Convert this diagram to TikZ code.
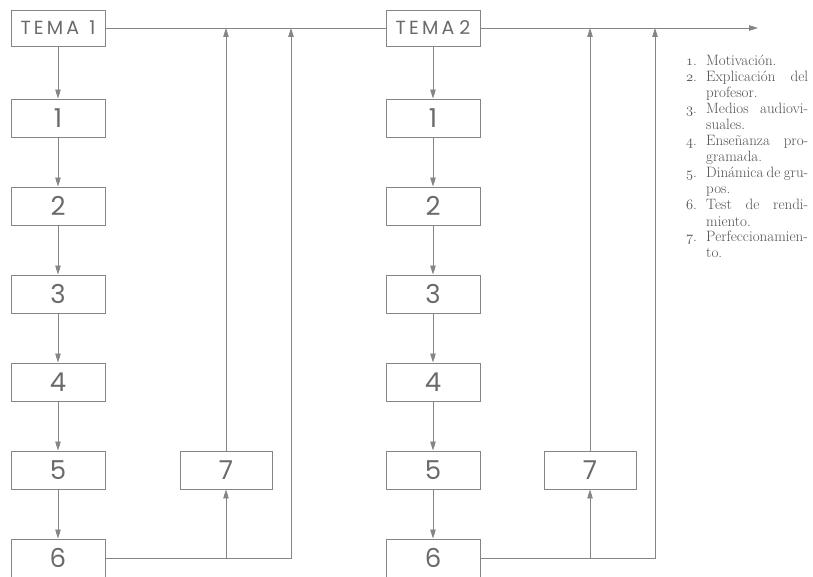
\documentclass[tikz,border=0pt]{standalone}
\usepackage{fontspec}
\newfontfamily\boxfont{Poppins}
\usetikzlibrary{arrows.meta}
\definecolor{ln}{HTML}{858585}
\definecolor{tx}{HTML}{6A6A6A}
\definecolor{lg}{HTML}{505050}
\newcommand\osn[1]{{\usefont{OML}{cmm}{m}{it}#1}}
\newcommand\jline[1]{\makebox[102pt][s]{#1}}
\begin{document}
\begin{tikzpicture}[x=1pt,y=-1pt,
 box/.style={draw=ln, line width=0.9pt, minimum width=94pt, minimum height=38pt, inner sep=0pt, text=tx, font=\boxfont\fontsize{26}{26}\selectfont},
 tema/.style={box, minimum height=36pt, font=\boxfont\fontsize{19}{19}\selectfont},
 conn/.style={draw=ln, line width=0.8pt},
 arr/.style={conn, -{Triangle[length=9pt,width=5.5pt]}},
 lgtext/.style={anchor=base west, inner sep=0pt, text=lg, font=\fontsize{15}{16}\selectfont},
 lgnum/.style={anchor=base east, inner sep=0pt, text=lg, font=\fontsize{15}{16}\selectfont}]
\useasboundingbox (0,0) rectangle (813,577);

% ---- column 1
\node[tema] (t1) at (58,28) {T\,E\,M\,A\ \ 1};
\node[box] (a1) at (58,118) {1};
\node[box] (a2) at (58,206) {2};
\node[box] (a3) at (58,294) {3};
\node[box] (a4) at (58,382) {4};
\node[box] (a5) at (58,470) {5};
\node[box] (a6) at (58,558) {6};
\node[box, minimum width=92pt] (a7) at (226,470) {7};
\draw[arr] (t1) -- (a1);
\draw[arr] (a1) -- (a2);
\draw[arr] (a2) -- (a3);
\draw[arr] (a3) -- (a4);
\draw[arr] (a4) -- (a5);
\draw[arr] (a5) -- (a6);
\coordinate (la) at (291,28);
\draw[arr] (a6.east) -| (la);
\draw[arr] (a6.east -| a7.south) -- (a7.south);
\draw[arr] (a7.north) -- (a7.north |- t1.east);

% ---- column 2
\node[tema] (t2) at (433,28) {T\,E\,M\,A\ 2};
\node[box] (b1) at (433,118) {1};
\node[box] (b2) at (433,206) {2};
\node[box] (b3) at (433,294) {3};
\node[box] (b4) at (433,382) {4};
\node[box] (b5) at (433,470) {5};
\node[box] (b6) at (433,558) {6};
\node[box, minimum width=92pt] (b7) at (590,470) {7};
\draw[arr] (t2) -- (b1);
\draw[arr] (b1) -- (b2);
\draw[arr] (b2) -- (b3);
\draw[arr] (b3) -- (b4);
\draw[arr] (b4) -- (b5);
\draw[arr] (b5) -- (b6);
\coordinate (lb) at (655,28);
\draw[arr] (b6.east) -| (lb);
\draw[arr] (b6.east -| b7.south) -- (b7.south);
\draw[arr] (b7.north) -- (b7.north |- t2.east);

% ---- main line
\coordinate (end) at (758,28);
\draw[conn] (t1.east) -- (t2.west);
\draw[arr] (t2.east) -- (end);

% ---- legend
\def\lx{706}
\def\nx{697}
\node[lgnum] (n1) at (\nx,66) {\osn{1}.};
\node[lgtext] (l1) at (\lx,66) {Motivación.};
\node[lgnum] (n2) at (\nx,82) {\osn{2}.};
\node[lgtext] (l2) at (\lx,82) {\jline{Explicación del}};
\node[lgtext] (l3) at (\lx,98) {profesor.};
\node[lgnum] (n3) at (\nx,114) {\osn{3}.};
\node[lgtext] (l4) at (\lx,114) {\jline{Medios audiovi-}};
\node[lgtext] (l5) at (\lx,130) {suales.};
\node[lgnum] (n4) at (\nx,146) {\osn{4}.};
\node[lgtext] (l6) at (\lx,146) {\jline{Enseñanza pro-}};
\node[lgtext] (l7) at (\lx,162) {gramada.};
\node[lgnum] (n5) at (\nx,178) {\osn{5}.};
\node[lgtext] (l8) at (\lx,178) {\jline{Dinámica de gru-}};
\node[lgtext] (l9) at (\lx,194) {pos.};
\node[lgnum] (n6) at (\nx,210) {\osn{6}.};
\node[lgtext] (l10) at (\lx,210) {\jline{Test de rendi-}};
\node[lgtext] (l11) at (\lx,226) {miento.};
\node[lgnum] (n7) at (\nx,242) {\osn{7}.};
\node[lgtext] (l12) at (\lx,242) {Perfeccionamien-};
\node[lgtext] (l13) at (\lx,258) {to.};
\end{tikzpicture}
\end{document}
